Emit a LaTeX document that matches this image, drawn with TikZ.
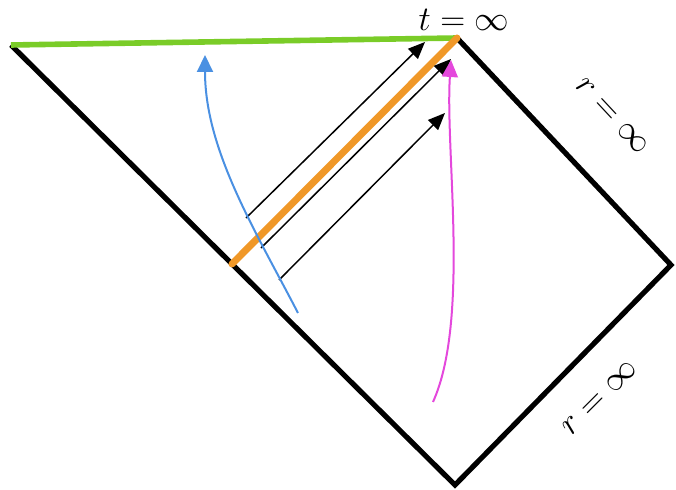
\documentclass[tikz,border=0pt]{standalone}
\definecolor{scri}{RGB}{122,204,40}
\definecolor{horizon}{RGB}{240,152,40}
\definecolor{infall}{RGB}{74,144,226}
\definecolor{probe}{RGB}{228,72,220}
\usepackage{amsmath,amssymb}
\usepackage{tikz}
\usetikzlibrary{arrows.meta}

\begin{document}
\begin{tikzpicture}[x=0.5pt,y=-0.5pt,
    edge/.style={line width=2.6pt,line join=miter},
    ray/.style={line width=0.75pt,-{Triangle[length=8.5pt,width=7pt]}},
    lbl/.style={font=\fontsize{17}{20}\selectfont,inner sep=1pt}]
        \useasboundingbox (0,0) rectangle (676,490);
        \coordinate (L) at (11,45);
        \coordinate (T) at (457,38);
        \coordinate (R) at (671,265);
        \coordinate (B) at (455,485);
        \coordinate (H) at (232,264);
        % boundary of the diagram
        \draw[edge] (L) -- (B) -- (R) -- (T);
        \draw[scri,line width=2.8pt] (L) -- (T);
        \draw[horizon,line width=3.5pt,line cap=round] (H) -- (T);
        % outgoing light rays
        \coordinate (s1) at (246,218); \coordinate (e1) at (425,42);
        \coordinate (s2) at (261,248); \coordinate (e2) at (451,59);
        \coordinate (s3) at (279,280); \coordinate (e3) at (445,113);
        \draw[ray] (s1) -- (e1);
        \draw[ray] (s2) -- (e2);
        \draw[ray] (s3) -- (e3);
        % worldlines
        \coordinate (f0) at (298,313); \coordinate (f1) at (205,55);
        \coordinate (p0) at (433,402); \coordinate (p1) at (451,60);
        \draw[infall,line width=1pt,-{Triangle[length=8.5pt,width=8pt]}]
          (f0) .. controls (255,230) and (205,150) .. (f1);
        \draw[probe,line width=1pt,-{Triangle[length=8.5pt,width=8pt]}]
          (p0) .. controls (470,320) and (445,150) .. (p1);
        \node[lbl] (tinf) at (464,20) {$t = \infty$};
        \node[lbl,rotate=-47] (rtop) at (612,116) {$r = \infty$};
        \node[lbl,rotate=45] (rbot) at (600,398) {$r = \infty$};
      \end{tikzpicture}
\end{document}
